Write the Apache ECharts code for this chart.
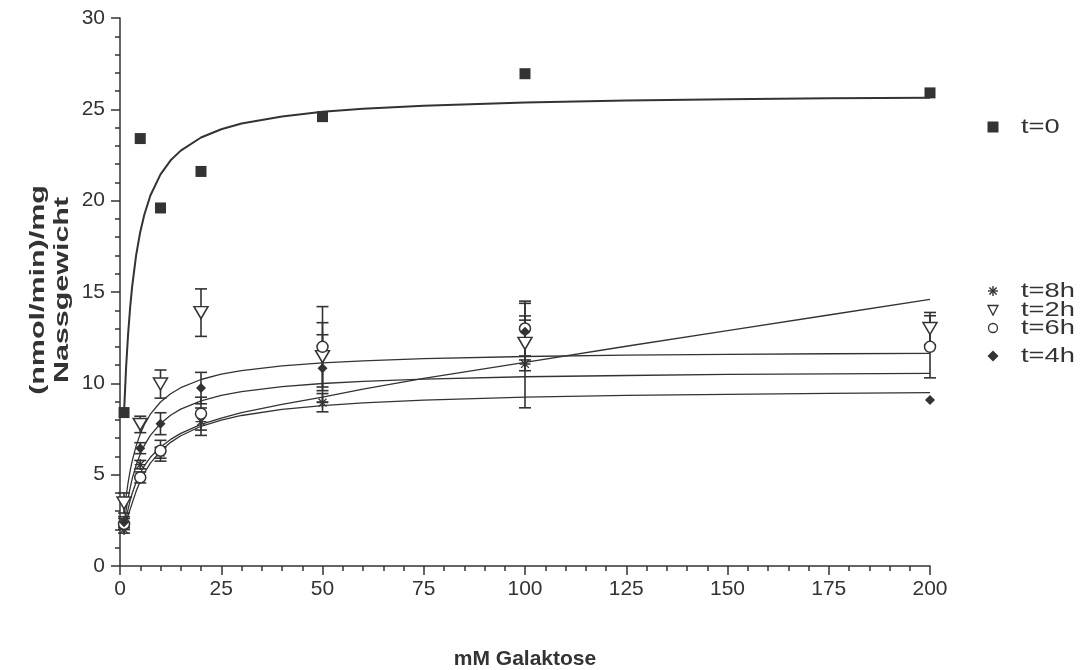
<!DOCTYPE html>
<html>
<head>
<meta charset="utf-8">
<script src="https://cdn.jsdelivr.net/npm/echarts@6/dist/echarts.min.js"></script>
<style>
html,body{margin:0;padding:0;background:#fff;}
#main{width:1082px;height:670px;}
</style>
</head>
<body>
<div id="main"></div>
<script>
// ---- data ----
const xVals = [1, 5, 10, 20, 50, 100, 200];
const t0    = [8.4, 23.4, 19.6, 21.6, 24.6, 26.95, 25.9];
const t2h    = [3.45, 7.75, 9.96, 13.87, 11.46, 12.19, 13.0];
const t2hErr = [0.55, 0.45, 0.77, 1.3, 1.86, 1.5, 0.88];
const t4h    = [2.4, 6.45, 7.79, 9.74, 10.82, 12.83, 9.09];
const t4hErr = [0.3, 0.3, 0.6, 0.86, 1.84, 1.55, 0];
const t6h    = [2.3, 4.85, 6.31, 8.34, 12.0, 13.0, 12.0];
const t6hErr = [0.3, 0.3, 0.57, 0.9, 2.2, 1.5, 1.7];
const t8h    = [2.0, 5.55, 6.2, 7.9, 8.94, 11.06, null];
const t8hErr = [0.2, 0.23, 0.3, 0.75, 0.5, 2.4, null];

// fitted curves
const fitX  = [1, 1.5, 2, 2.5, 3, 4, 5, 6, 7.5, 10, 12.5, 15, 20, 25, 30, 40, 50, 60, 75, 100, 125, 150, 175, 200];
const fitT0 = [8.41, 10.85, 12.7, 14.14, 15.29, 17.04, 18.29, 19.23, 20.28, 21.44, 22.21, 22.74, 23.46, 23.91, 24.22, 24.61, 24.87, 25.03, 25.2, 25.37, 25.48, 25.55, 25.6, 25.63];
const fitA  = [2.83, 3.79, 4.57, 5.21, 5.74, 6.59, 7.23, 7.73, 8.31, 8.98, 9.43, 9.76, 10.21, 10.5, 10.7, 10.96, 11.12, 11.23, 11.35, 11.47, 11.54, 11.58, 11.62, 11.64];
const fitB  = [2.25, 3.05, 3.72, 4.28, 4.76, 5.53, 6.12, 6.6, 7.15, 7.8, 8.25, 8.59, 9.04, 9.34, 9.55, 9.82, 9.99, 10.11, 10.23, 10.36, 10.43, 10.49, 10.52, 10.55];
const fitC  = [1.9, 2.57, 3.11, 3.58, 3.97, 4.6, 5.09, 5.48, 5.95, 6.52, 6.93, 7.26, 7.75, 8.1, 8.4, 8.85, 9.25, 9.68, 10.27, 11.15, 12.03, 12.88, 13.74, 14.6];
const fitD  = [1.85, 2.35, 2.75, 3.1, 3.44, 4.1, 4.64, 5.09, 5.63, 6.29, 6.77, 7.13, 7.65, 7.99, 8.24, 8.57, 8.78, 8.93, 9.08, 9.24, 9.34, 9.4, 9.45, 9.49];

const legendNames = ['t=0', 't=8h', 't=2h', 't=6h', 't=4h'];
const xTitle = 'mM Galaktose';
const yTitle = '(nmol/min)/mg\nNassgewicht';

// ---- styling ----
const INK = '#333';
const FONT = 'Liberation Sans, Arial, sans-serif';
const ASTERISK = 'path://M-0.6,-5L0.6,-5L0.6,5L-0.6,5Z M-5,-0.6L5,-0.6L5,0.6L-5,0.6Z M3.12,3.96L-3.96,-3.12L-3.12,-3.96L3.96,3.12Z M3.96,-3.12L-3.12,3.96L-3.96,3.12L3.12,-3.96Z';

function pts(xs, ys) { return xs.map((x, i) => [x, ys[i]]).filter(p => p[1] != null); }
function errPts(xs, ys, es) { return xs.map((x, i) => [x, ys[i], es[i]]).filter(p => p[1] != null && p[2]); }

function errSeries(xs, ys, es) {
  return {
    type: 'custom', z: 2, silent: true,
    renderItem: function (params, api) {
      const x = api.value(0), y = api.value(1), e = api.value(2);
      const top = api.coord([x, y + e]);
      const bot = api.coord([x, y - e]);
      const hw = 6;
      const st = { stroke: INK, lineWidth: 1.6 };
      return { type: 'group', children: [
        { type: 'line', shape: { x1: top[0], y1: top[1], x2: bot[0], y2: bot[1] }, style: st },
        { type: 'line', shape: { x1: top[0] - hw, y1: top[1], x2: top[0] + hw, y2: top[1] }, style: st },
        { type: 'line', shape: { x1: bot[0] - hw, y1: bot[1], x2: bot[0] + hw, y2: bot[1] }, style: st }
      ]};
    },
    data: errPts(xs, ys, es)
  };
}
function fitSeries(ys, w) {
  return { type: 'line', data: pts(fitX, ys), showSymbol: false, smooth: false,
    lineStyle: { color: INK, width: w }, z: 1, silent: true };
}
function scat(name, ys, symbol, size, open, rot) {
  return { name: name, type: 'scatter', data: pts(xVals, ys), symbol: symbol, symbolSize: size,
    symbolRotate: rot || 0, z: 3,
    itemStyle: open ? { color: '#fff', borderColor: INK, borderWidth: 1.5, opacity: 1 } : { color: INK, opacity: 1 } };
}

const chart = echarts.init(document.getElementById('main'), null, { renderer: 'canvas' });

// legend + y title drawn as graphic elements (positions from picture)
const lgX = 993, lgTX = 1021;
const lgY = [127, 291, 310, 328, 356];
const ast = { stroke: INK, lineWidth: 1.4 };
const graphics = [
  { type: 'rect', shape: { x: lgX - 5.5, y: lgY[0] - 5.5, width: 11, height: 11 }, style: { fill: INK } },
  { type: 'group', children: [
    { type: 'line', shape: { x1: lgX, y1: lgY[1] - 5, x2: lgX, y2: lgY[1] + 5 }, style: ast },
    { type: 'line', shape: { x1: lgX - 5, y1: lgY[1], x2: lgX + 5, y2: lgY[1] }, style: ast },
    { type: 'line', shape: { x1: lgX - 3.6, y1: lgY[1] - 3.6, x2: lgX + 3.6, y2: lgY[1] + 3.6 }, style: ast },
    { type: 'line', shape: { x1: lgX - 3.6, y1: lgY[1] + 3.6, x2: lgX + 3.6, y2: lgY[1] - 3.6 }, style: ast }
  ]},
  { type: 'polygon', shape: { points: [[lgX - 5, lgY[2] - 4.5], [lgX + 5, lgY[2] - 4.5], [lgX, lgY[2] + 5]] }, style: { fill: '#fff', stroke: INK, lineWidth: 1.3 } },
  { type: 'circle', shape: { cx: lgX, cy: lgY[3], r: 4.5 }, style: { fill: '#fff', stroke: INK, lineWidth: 1.3 } },
  { type: 'polygon', shape: { points: [[lgX, lgY[4] - 5.5], [lgX + 5.5, lgY[4]], [lgX, lgY[4] + 5.5], [lgX - 5.5, lgY[4]]] }, style: { fill: INK } },
  { type: 'text', x: 50, y: 290, rotation: Math.PI / 2, scaleX: 1.45,
    style: { text: yTitle, fill: INK, font: 'bold 21px ' + FONT, lineHeight: 24, align: 'center', verticalAlign: 'middle' } }
];
legendNames.forEach((n, i) => {
  graphics.push({ type: 'text', x: lgTX, y: lgY[i], scaleX: 1.3,
    style: { text: n, fill: INK, font: '21px ' + FONT, verticalAlign: 'middle', align: 'left' } });
});

chart.setOption({
  animation: false,
  backgroundColor: '#fff',
  textStyle: { fontFamily: FONT },
  grid: { left: 120, right: 152, top: 18, bottom: 104, containLabel: false, outerBoundsMode: 'none' },
  xAxis: {
    type: 'value', min: 0, max: 200, interval: 25,
    name: xTitle, nameLocation: 'middle', nameGap: 83,
    nameTextStyle: { fontSize: 21, fontWeight: 'bold', color: INK, fontFamily: FONT },
    axisLine: { lineStyle: { color: INK, width: 1.5 } },
    axisTick: { length: 9, lineStyle: { color: INK, width: 1.5 } },
    minorTick: { show: true, splitNumber: 5, length: 5, lineStyle: { color: INK, width: 1.5 } },
    axisLabel: { fontSize: 21, color: INK, margin: 13, fontFamily: FONT },
    splitLine: { show: false }
  },
  yAxis: {
    type: 'value', min: 0, max: 30, interval: 5,
    axisLine: { show: true, lineStyle: { color: INK, width: 1.5 } },
    axisTick: { show: true, length: 9, lineStyle: { color: INK, width: 1.5 } },
    minorTick: { show: true, splitNumber: 5, length: 5, lineStyle: { color: INK, width: 1.5 } },
    axisLabel: { fontSize: 21, color: INK, margin: 15, fontFamily: FONT },
    splitLine: { show: false }
  },
  graphic: graphics,
  series: [
    fitSeries(fitT0, 2),
    fitSeries(fitA, 1.3),
    fitSeries(fitB, 1.3),
    fitSeries(fitC, 1.3),
    fitSeries(fitD, 1.3),
    errSeries(xVals, t2h, t2hErr),
    errSeries(xVals, t4h, t4hErr),
    errSeries(xVals, t6h, t6hErr),
    errSeries(xVals, t8h, t8hErr),
    scat('t=0', t0, 'rect', 11, false),
    scat('t=8h', t8h, ASTERISK, 11, false),
    scat('t=2h', t2h, 'triangle', [14, 12], true, 180),
    scat('t=6h', t6h, 'circle', 11, true),
    scat('t=4h', t4h, 'diamond', 10, false)
  ]
});
</script>
</body>
</html>
